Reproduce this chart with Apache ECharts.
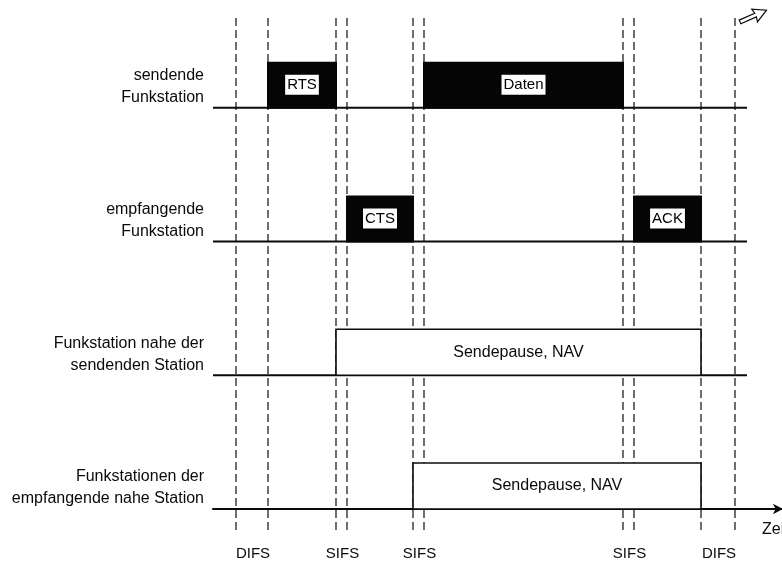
<!DOCTYPE html>
<html><head><meta charset="utf-8">
<script src="https://cdn.jsdelivr.net/npm/echarts@6/dist/echarts.min.js"></script>
<style>html,body{margin:0;padding:0;background:#fff}#c{width:782px;height:562px}</style>
</head><body><div id="c"></div>
<script>
// ---- data (time in arbitrary units) ----
const stations = [
  'sendende\nFunkstation',
  'empfangende\nFunkstation',
  'Funkstation nahe der\nsendenden Station',
  'Funkstationen der\nempfangende nahe Station'
];
const gapLabels = ['DIFS', 'SIFS', 'SIFS', 'SIFS', 'DIFS'];
const gapStart  = [23, 123, 200, 410, 488];
const gapEnd    = [55, 134, 211, 421, 522];
const frameLabels  = ['RTS', 'CTS', 'Daten', 'ACK'];
const frameStation = [0, 1, 0, 1];
const frameStart   = [55, 134, 211, 421];
const frameEnd     = [123, 200, 410, 488];
const navLabels  = ['Sendepause, NAV', 'Sendepause, NAV'];
const navStation = [2, 3];
const navStart   = [123, 200];
const navEnd     = [488, 488];
const timelineEnd = 534;
const axisName = 'Zeit';

// ---- styling constants ----
const FONT = '"Liberation Sans", Arial, Helvetica, sans-serif';
const INK = '#0a0a0a';
const BOX_H = 0.344;
const level = i => stations.length - 1 - i;
const Y_MIN = -0.157, Y_MAX = 3.672;

const chart = echarts.init(document.getElementById('c'));

const boundaries = [];
gapStart.forEach((s, i) => { boundaries.push([s]); boundaries.push([gapEnd[i]]); });

const option = {
  backgroundColor: '#fff',
  animation: false,
  grid: { left: 213, top: 18, width: 570, height: 512, containLabel: false, outerBoundsMode: 'none' },
  xAxis: {
    type: 'value', min: 0, max: 570,
    axisLine: { show: true, onZero: true, symbol: ['none', 'arrow'], symbolSize: [8, 10],
      lineStyle: { color: INK, width: 2 } },
    axisTick: { show: false }, axisLabel: { show: false }, splitLine: { show: false },
    name: axisName, nameLocation: 'end', nameGap: -21,
    nameTextStyle: { color: INK, fontFamily: FONT, fontSize: 16, align: 'left',
      verticalAlign: 'top', padding: [13, 0, 0, 0] }
  },
  yAxis: { type: 'value', min: Y_MIN, max: Y_MAX, show: false },
  series: [
    { // dashed boundaries
      type: 'custom', silent: true, data: boundaries, z: 1,
      renderItem(params, api) {
        const t = api.value(0);
        const a = api.coord([t, Y_MAX]), b = api.coord([t, Y_MIN]);
        return { type: 'line', shape: { x1: a[0], y1: a[1], x2: b[0], y2: b[1] },
          style: { stroke: '#222', lineWidth: 1.3, lineDash: [8, 4] } };
      }
    },
    { // station timelines (last one is the time axis)
      type: 'custom', silent: true, z: 2,
      data: stations.slice(0, stations.length - 1).map((s, i) => [0, timelineEnd, level(i)]),
      renderItem(params, api) {
        const a = api.coord([api.value(0), api.value(2)]), b = api.coord([api.value(1), api.value(2)]);
        return { type: 'line', shape: { x1: a[0], y1: a[1], x2: b[0], y2: b[1] },
          style: { stroke: INK, lineWidth: 2 } };
      }
    },
    { // station labels
      type: 'custom', silent: true, z: 3,
      data: stations.map((s, i) => [0, level(i)]),
      renderItem(params, api) {
        const p = api.coord([api.value(0), api.value(1)]);
        return { type: 'text', x: p[0] - 9, y: p[1] - 21,
          style: { text: stations[params.dataIndex], fill: INK, font: '16px ' + FONT,
            lineHeight: 22, align: 'right', verticalAlign: 'middle' } };
      }
    },
    { // frames
      type: 'custom', silent: true, z: 4,
      data: frameLabels.map((l, i) => [frameStart[i], frameEnd[i], level(frameStation[i])]),
      renderItem(params, api) {
        const s = api.value(0), e = api.value(1), lv = api.value(2);
        const p0 = api.coord([s, lv]), p1 = api.coord([e, lv + BOX_H]);
        return { type: 'group', children: [
          { type: 'rect', shape: { x: p0[0] - 1, y: p1[1], width: p1[0] - p0[0] + 2, height: p0[1] - p1[1] + 1 },
            style: { fill: '#050505' } },
          { type: 'text', x: (p0[0] + p1[0]) / 2, y: (p0[1] + p1[1]) / 2,
            style: { text: frameLabels[params.dataIndex], fill: '#000', font: '15px ' + FONT,
              align: 'center', verticalAlign: 'middle', backgroundColor: '#fff',
              borderColor: '#000', borderWidth: 1, padding: [3, 2, 2, 2] } }
        ] };
      }
    },
    { // NAV
      type: 'custom', silent: true, z: 4,
      data: navLabels.map((l, i) => [navStart[i], navEnd[i], level(navStation[i])]),
      renderItem(params, api) {
        const s = api.value(0), e = api.value(1), lv = api.value(2);
        const p0 = api.coord([s, lv]), p1 = api.coord([e, lv + BOX_H]);
        return { type: 'group', children: [
          { type: 'rect', shape: { x: p0[0], y: p1[1], width: p1[0] - p0[0], height: p0[1] - p1[1] },
            style: { fill: '#fff', stroke: INK, lineWidth: 1.6 } },
          { type: 'text', x: (p0[0] + p1[0]) / 2, y: (p0[1] + p1[1]) / 2,
            style: { text: navLabels[params.dataIndex], fill: INK, font: '16px ' + FONT,
              align: 'center', verticalAlign: 'middle' } }
        ] };
      }
    },
    { // gap labels
      type: 'custom', silent: true, z: 3,
      data: gapLabels.map((l, i) => [(gapStart[i] + gapEnd[i]) / 2, 0]),
      renderItem(params, api) {
        const p = api.coord([api.value(0), api.value(1)]);
        return { type: 'text', x: p[0] + 1, y: p[1] + 45,
          style: { text: gapLabels[params.dataIndex], fill: INK, font: '15px ' + FONT,
            align: 'center', verticalAlign: 'middle' } };
      }
    }
  ],
  graphic: [{
    type: 'polygon', x: 740, y: 22, rotation: Math.PI / 7.5,
    shape: { points: [[0, -2], [17, -2], [16, -7], [29, 0], [16, 7], [17, 2], [0, 2]] },
    style: { fill: '#fff', stroke: INK, lineWidth: 1.2 }
  }]
};
chart.setOption(option);
</script>
</body></html>
